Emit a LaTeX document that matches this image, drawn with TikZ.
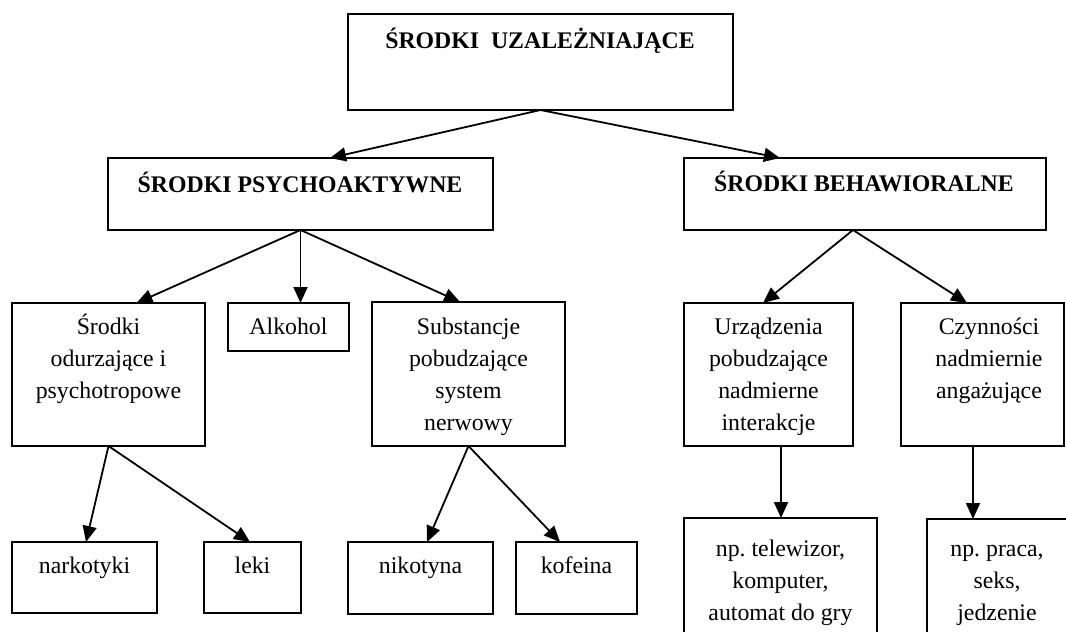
\documentclass[tikz,border=0pt]{standalone}
\usepackage{fontspec}
\setmainfont{Liberation Serif}
\usetikzlibrary{arrows.meta}
\frenchspacing
\begin{document}
\begin{tikzpicture}[x=1pt,y=-1pt,
  box/.style={draw=black,line width=1.8pt,rectangle,inner sep=0pt,outer sep=0pt,anchor=north west},
  lbl/.style={align=center,anchor=base,inner sep=0pt,font=\fontsize{23.8}{32}\selectfont},
  blbl/.style={lbl,font=\fontsize{23.8}{32}\selectfont\bfseries},
  arr/.style={line width=1.8pt,-{Triangle[length=16pt,width=14pt]}}]
\clip (0,0) rectangle (1066,632);
\fill[white] (0,0) rectangle (1066,632);
% boxes
\node[box,minimum width=385,minimum height=96] (top) at (348,14) {};
\node[box,minimum width=385,minimum height=72] (psy) at (108,158) {};
\node[box,minimum width=362,minimum height=72] (beh) at (684,158) {};
\node[box,minimum width=193,minimum height=143] (srod) at (12,303) {};
\node[box,minimum width=121,minimum height=48] (alk) at (228,303) {};
\node[box,minimum width=193,minimum height=144] (sub) at (372,302) {};
\node[box,minimum width=169,minimum height=143] (urz) at (684,303) {};
\node[box,minimum width=163,minimum height=143] (czy) at (901,303) {};
\node[box,minimum width=145,minimum height=71] (nark) at (12,542) {};
\node[box,minimum width=97,minimum height=71] (leki) at (204,542) {};
\node[box,minimum width=145,minimum height=72] (nik) at (348,542) {};
\node[box,minimum width=121,minimum height=72] (kof) at (516,542) {};
\node[box,minimum width=193,minimum height=140] (tel) at (684,518) {};
\node[box,minimum width=143,minimum height=140] (praca) at (927,519) {};
% labels (anchor = baseline of the last line)
\node[blbl] (ttop) at (540,48) {ŚRODKI\ \ UZALEŻNIAJĄCE};
\node[blbl] (tpsy) at (300,192) {ŚRODKI PSYCHOAKTYWNE};
\node[blbl] (tbeh) at (864,191) {ŚRODKI BEHAWIORALNE};
\node[lbl] (tsrod) at (108.5,398) {Środki\\odurzające i\\psychotropowe};
\node[lbl] (talk) at (288.5,334) {Alkohol};
\node[lbl] (tsub) at (468.5,430) {Substancje\\pobudzające\\system\\nerwowy};
\node[lbl] (turz) at (768.5,430) {Urządzenia\\pobudzające\\nadmierne\\interakcje};
\node[lbl] (tczy) at (989,398) {Czynności\\nadmiernie\\angażujące};
\node[lbl] (tnark) at (84.5,573) {narkotyki};
\node[lbl] (tleki) at (252.5,573) {leki};
\node[lbl] (tnik) at (420.5,573) {nikotyna};
\node[lbl] (tkof) at (576.5,573) {kofeina};
\node[lbl] (ttel) at (780.5,620) {np. telewizor,\\komputer,\\automat do gry};
\node[lbl] (tpraca) at (997,620) {np. praca,\\seks,\\jedzenie};
% connectors
\draw[arr] (top.south) -- ([xshift=29.5]psy.north);
\draw[arr] (top.south) -- ([xshift=-85]beh.north);
\draw[arr] (psy.south) -- ([xshift=28]srod.north);
\draw[arr] (psy.south) -- (psy.south |- alk.north);
\draw[arr] (psy.south) -- ([xshift=-8.5]sub.north);
\draw[arr] (srod.south) -- ([xshift=1.5]nark.north);
\draw[arr] (srod.south) -- ([xshift=-2.5]leki.north);
\draw[arr] (sub.south) -- ([xshift=6.5]nik.north);
\draw[arr] (sub.south) -- ([xshift=-16.5]kof.north);
\coordinate (behout) at ([xshift=-12]beh.south);
\draw[arr] (behout) -- ([xshift=-5.5]urz.north);
\draw[arr] (behout) -- ([xshift=-15.5]czy.north);
\coordinate (urzout) at ([xshift=12.5]urz.south);
\draw[arr] (urzout) -- (urzout |- tel.north);
\coordinate (czyout) at ([xshift=-9.5]czy.south);
\draw[arr] (czyout) -- (czyout |- praca.north);
\end{tikzpicture}
\end{document}
